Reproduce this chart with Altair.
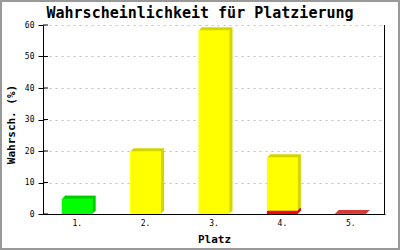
import altair as alt
import pandas as pd

# --- data ---
title_text = ["Wahrscheinlichkeit für Platzierung"]
places = ["1.", "2.", "3.", "4.", "5."]
main_kind = ["grün", "gelb", "gelb", "gelb", "gelb"]
main_vals = [4.9, 19.9, 58.3, 17.0, 0.0]
red_vals = [0.0, 0.0, 0.0, 1.0, 0.25]
y_ticks = [0, 10, 20, 30, 40, 50, 60]

rows = []
for p, k, m, r in zip(places, main_kind, main_vals, red_vals):
    if r > 0:
        rows.append({"Platz": p, "Art": "rot", "Wert": r, "ord": 0})
    if m > 0:
        rows.append({"Platz": p, "Art": k, "Wert": m, "ord": 1})
df = pd.DataFrame(rows)
ticks_df = pd.DataFrame({"t": y_ticks})
title_df = pd.DataFrame({"title": title_text})

kinds = ["grün", "gelb", "rot"]
front_cols = ["#00ff00", "#ffff00", "#ff0000"]
dark_cols = ["#00cc00", "#d4d400", "#cc0000"]

FONT = "DejaVu Sans Mono"
W, H = 342, 189

x_axis = alt.Axis(title="Platz", labelAngle=0, ticks=False, domain=True,
                  domainColor="black", labelFont=FONT, labelFontSize=8,
                  labelColor="black", labelPadding=5,
                  titleFont=FONT, titleFontSize=11, titleFontWeight="bold",
                  titleColor="black", titleY=25, titleBaseline="middle")
x_scale = alt.Scale(paddingInner=0.54, paddingOuter=0.27)
y_scale = alt.Scale(domain=[0, 60], nice=False)
y_axis = alt.Axis(title="Wahrsch. (%)", values=y_ticks, tickSize=5,
                  tickColor="black", domainColor="black",
                  labelFont=FONT, labelFontSize=8, labelColor="black",
                  labelPadding=4, labelOverlap=False, grid=True,
                  gridColor="#c0c0c0",
                  gridDash=[2, 4], titleFont=FONT, titleFontSize=11,
                  titleFontWeight="bold", titleColor="black",
                  titleAngle=270, titleX=-32, titleY=99,
                  titleAlign="center", titleBaseline="middle")

x_enc = alt.X("Platz:N", sort=places, scale=x_scale, axis=x_axis)
y_enc = alt.Y("Wert:Q", stack="zero", scale=y_scale, axis=y_axis)

base = alt.Chart(df)

layers = []
for k in [3, 2, 1]:
    layers.append(
        base.mark_bar(size=31, xOffset=k, x2Offset=k, yOffset=-k, y2Offset=-k).encode(
            x=x_enc,
            y=y_enc,
            color=alt.Color("Art:N", scale=alt.Scale(domain=kinds, range=dark_cols), legend=None),
            order=alt.Order("ord:Q"),
        )
    )

front = base.mark_bar(size=31).encode(
    x=x_enc,
    y=y_enc,
    fill=alt.Fill("Art:N", scale=alt.Scale(domain=kinds, range=front_cols), legend=None),
    order=alt.Order("ord:Q"),
)
layers.append(front)

inner_ticks = alt.Chart(ticks_df).mark_rule(color="black").encode(
    x=alt.value(0), x2=alt.value(5), y=alt.Y("t:Q", scale=y_scale, axis=y_axis)
)
right_border = alt.Chart(ticks_df).mark_rule(color="black").encode(
    x=alt.value(W - 0.5), y=alt.value(0), y2=alt.value(H)
)
frame = alt.Chart(ticks_df).mark_rect(fill=None, stroke="#999999", strokeWidth=2).encode(
    x=alt.value(-42), x2=alt.value(356), y=alt.value(-24), y2=alt.value(224)
)
title_mark = alt.Chart(title_df).mark_text(
    font=FONT, fontSize=15, fontWeight="bold", color="black",
    align="center", baseline="alphabetic"
).encode(text="title:N", x=alt.value(157), y=alt.value(-7))

chart = alt.layer(*layers, inner_ticks, right_border, frame, title_mark).resolve_scale(
    color="independent"
).properties(
    width=W, height=H,
    autosize="none",
    padding={"left": 43, "top": 25, "right": 15, "bottom": 36},
    background="white",
).configure_view(stroke=None).configure_axis(labelOverlap=False)

chart.save("out.html", embed_options={"renderer": "svg", "actions": False})
